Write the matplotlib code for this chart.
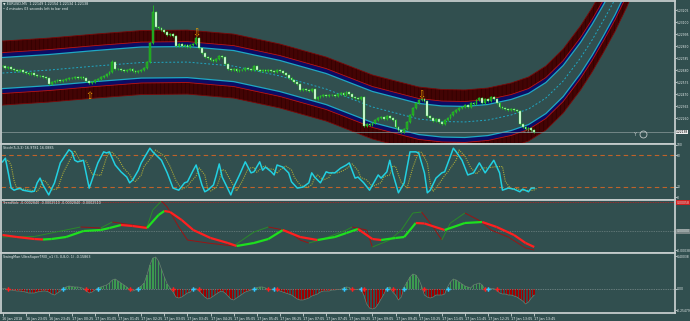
import numpy as np
import pandas as pd
import matplotlib
matplotlib.use("Agg")
import matplotlib.pyplot as plt
from matplotlib import font_manager
from matplotlib.collections import LineCollection

# ---------------- data ----------------
first_open = 1.22720
closes = [
    1.22715, 1.22698, 1.22707, 1.22689, 1.22680, 1.22672, 1.22680, 1.22663, 1.22654, 1.22645,
    1.22654, 1.22637, 1.22628, 1.22628, 1.22619, 1.22610, 1.22558, 1.22575, 1.22584, 1.22593,
    1.22584, 1.22593, 1.22602, 1.22610, 1.22610, 1.22619, 1.22610, 1.22619, 1.22610, 1.22584,
    1.22567, 1.22575, 1.22593, 1.22602, 1.22619, 1.22628, 1.22645, 1.22663, 1.22750, 1.22689,
    1.22689, 1.22680, 1.22672, 1.22680, 1.22689, 1.22672, 1.22663, 1.22672, 1.22680, 1.22698,
    1.22750, 1.22917, 1.23188, 1.23057, 1.23048, 1.23031, 1.23013, 1.22987, 1.22995, 1.22978,
    1.22890, 1.22908, 1.22890, 1.22899, 1.22882, 1.22899, 1.22908, 1.22961, 1.22873, 1.22829,
    1.22794, 1.22786, 1.22768, 1.22759, 1.22777, 1.22803, 1.22794, 1.22733, 1.22689, 1.22680,
    1.22689, 1.22672, 1.22680, 1.22680, 1.22698, 1.22689, 1.22680, 1.22715, 1.22680, 1.22672,
    1.22680, 1.22672, 1.22680, 1.22672, 1.22663, 1.22680, 1.22672, 1.22654, 1.22637, 1.22610,
    1.22593, 1.22575, 1.22558, 1.22505, 1.22514, 1.22505, 1.22497, 1.22514, 1.22427, 1.22444,
    1.22453, 1.22462, 1.22453, 1.22462, 1.22462, 1.22453, 1.22470, 1.22479, 1.22462, 1.22488,
    1.22470, 1.22444, 1.22435, 1.22427, 1.22444, 1.22190, 1.22208, 1.22199, 1.22217, 1.22243,
    1.22260, 1.22269, 1.22252, 1.22278, 1.22260, 1.22243, 1.22182, 1.22155, 1.22138, 1.22164,
    1.22225, 1.22287, 1.22348, 1.22392, 1.22418, 1.22427, 1.22409, 1.22278, 1.22260, 1.22234,
    1.22252, 1.22225, 1.22208, 1.22243, 1.22260, 1.22287, 1.22313, 1.22330, 1.22348, 1.22357,
    1.22374, 1.22357, 1.22392, 1.22383, 1.22418, 1.22435, 1.22392, 1.22427, 1.22409, 1.22444,
    1.22427, 1.22392, 1.22357, 1.22348, 1.22339, 1.22330, 1.22339, 1.22330, 1.22322, 1.22208,
    1.22182, 1.22164, 1.22173, 1.22155, 1.22138,
]
spike_high = {52: 1.23250, 38: 1.22768, 67: 1.22978}

time_labels = ["16 Jan 2018", "16 Jan 23:05", "16 Jan 23:45", "17 Jan 00:25", "17 Jan 01:05",
               "17 Jan 01:45", "17 Jan 02:25", "17 Jan 03:05", "17 Jan 03:45", "17 Jan 04:25",
               "17 Jan 05:05", "17 Jan 05:45", "17 Jan 06:25", "17 Jan 07:05", "17 Jan 07:45",
               "17 Jan 08:25", "17 Jan 09:05", "17 Jan 09:45", "17 Jan 10:25", "17 Jan 11:05",
               "17 Jan 11:45", "17 Jan 12:25", "17 Jan 13:05", "17 Jan 13:45"]

price_ticks = [1.23205, 1.23100, 1.22995, 1.22890, 1.22785, 1.22680, 1.22575, 1.22470, 1.22365, 1.22260]

# regression channel centre line
band_bars = [0, 16, 32, 48, 64, 80, 96, 112, 128, 144, 152, 160, 168, 176, 182, 188, 194,
             200, 204, 208, 212, 216, 224, 232]
band_mid = [1.22654, 1.22680, 1.22715, 1.22746, 1.22750, 1.22715, 1.22628, 1.22514, 1.22357,
            1.22252, 1.22230, 1.22226, 1.22243, 1.22287, 1.22339, 1.22435, 1.22584, 1.22786,
            1.22943, 1.23118, 1.23302, 1.23512, 1.23993, 1.24562]
band_in, band_red, band_out = 0.00136, 0.00179, 0.00280

arrow_bars = [30, 67, 145]
arrow_prices = [1.22453, 1.23004, 1.22462]
arrow_glyphs = ["\u21e7", "\u21e9", "\u21e9"]

stoch_bars = [0, 1, 2, 3, 4, 6, 7, 10, 11, 12, 13, 14, 16, 18, 20, 23, 24, 25, 26, 28,
              30, 33, 35, 36, 37, 39, 41, 43, 44, 45, 47, 48, 51, 52, 55, 57, 59, 61, 63, 64,
              66, 67, 69, 70, 71, 73, 74, 75, 76, 79, 80, 82, 84, 86, 87, 89, 90, 91, 93, 94,
              95, 97, 99, 100, 102, 104, 106, 107, 108, 110, 112, 113, 115, 117, 119, 120, 122, 123, 125, 127,
              130, 131, 133, 134, 135, 137, 139, 141, 143, 144, 146, 147, 148, 150, 152, 153, 156, 157, 159, 161,
              163, 165, 167, 170, 172, 173, 175, 177, 179, 180, 182, 183, 184]
stoch_main = [67, 74, 46, 17, 13, 17, 13, 10, 11, 27, 36, 23, 4, 27, 65, 90, 86, 70, 67, 70,
              17, 65, 86, 84, 86, 61, 48, 38, 27, 32, 51, 65, 93, 86, 70, 46, 17, 13, 27, 29,
              51, 61, 23, 10, 13, 23, 42, 63, 38, 4, 19, 42, 67, 46, 48, 67, 51, 57, 48, 42,
              61, 57, 46, 29, 17, 19, 27, 46, 38, 27, 48, 46, 46, 55, 61, 65, 36, 38, 27, 13,
              42, 36, 48, 70, 46, 8, 27, 86, 86, 84, 46, 8, 13, 36, 46, 48, 93, 86, 70, 42,
              46, 65, 46, 70, 46, 13, 17, 15, 10, 15, 10, 17, 17]

tv_thick_bars = [0, 5, 11, 14, 17, 22, 28, 34, 37, 41, 45, 50, 54, 56, 58, 62, 66, 72, 78, 81,
                 87, 92, 97, 103, 109, 115, 119, 123, 128, 131, 136, 139, 143, 146, 153, 160, 166, 171, 177, 181, 184]
tv_thick = [-0.00008, -0.00012, -0.00016, -0.00017, -0.00016, -0.00012, 0.0, 0.00002, 0.00006, 0.00012,
            0.00010, 0.00006, 0.00032, 0.00040, 0.00038, 0.00022, 0.00002, -0.00014, -0.00024, -0.00030,
            -0.00024, -0.00016, 0.00002, -0.00012, -0.00018, -0.00012, -0.00004, 0.00004, -0.00016, -0.00018,
            -0.00014, -0.00012, 0.00016, 0.00015, 0.00002, 0.00016, 0.00018, 0.00008, -0.00008, -0.00024,
            -0.00032]
tv_thin_bars = [0, 11, 27, 34, 38, 50, 52, 55, 57, 61, 64, 71, 80, 87, 92, 99, 103, 106, 110, 119,
                121, 126, 128, 134, 138, 142, 145, 149, 152, 155, 160, 166, 169, 175, 181, 184]
tv_thin = [-0.00012, -0.00011, 0.00008, 0.00006, 0.00018, 0.00008, 0.00042, 0.00060, 0.00048, 0.00008,
           -0.00018, -0.00024, -0.00030, -0.00002, 0.00008, 0.0, -0.00018, -0.00024, -0.00018, 0.00002,
           0.00008, 0.00002, -0.00032, -0.00018, 0.00002, 0.00036, 0.00038, 0.00008, -0.00018, 0.00016,
           0.00036, 0.00018, 0.00002, -0.00012, -0.00034, -0.00038]

swing_hist = [
    0.004, 0.004, -0.012, -0.012, -0.018, -0.024, -0.024, -0.030, -0.036, -0.048,
    -0.048, -0.048, -0.036, -0.030, -0.024, -0.024, -0.036, -0.060, -0.072, -0.048,
    -0.024, 0.006, 0.024, 0.036, 0.030, 0.024, 0.024, 0.018, 0.006, -0.024,
    -0.048, -0.036, -0.012, 0.012, 0.024, 0.036, 0.048, 0.072, 0.108, 0.120,
    0.096, 0.072, 0.048, 0.024, -0.012, -0.024, -0.012, 0.012, 0.036, 0.072,
    0.168, 0.288, 0.372, 0.384, 0.336, 0.240, 0.144, 0.060, 0.012, -0.036,
    -0.096, -0.108, -0.096, -0.072, -0.048, -0.036, 0.006, 0.006, -0.024, -0.060,
    -0.096, -0.120, -0.108, -0.084, -0.060, -0.036, -0.024, -0.048, -0.084, -0.120,
    -0.132, -0.108, -0.084, -0.060, -0.036, -0.024, -0.012, 0.006, 0.018, 0.024,
    0.024, 0.012, -0.006, -0.004, 0.004, -0.012, -0.024, -0.036, -0.048, -0.060,
    -0.072, -0.096, -0.120, -0.132, -0.132, -0.120, -0.108, -0.084, -0.072, -0.060,
    -0.036, -0.024, -0.024, -0.024, -0.012, -0.012, -0.006, -0.006, 0.012, 0.024,
    0.018, -0.012, -0.006, -0.004, 0.004, -0.072, -0.180, -0.228, -0.240, -0.228,
    -0.180, -0.120, -0.060, 0.012, 0.024, -0.036, -0.072, -0.132, -0.096, 0.024,
    0.084, 0.144, 0.180, 0.168, 0.120, 0.036, -0.072, -0.096, -0.108, -0.096,
    -0.072, -0.072, -0.072, -0.060, 0.024, 0.084, 0.120, 0.108, 0.084, 0.060,
    0.036, 0.024, 0.012, 0.048, 0.060, 0.072, 0.048, -0.012, 0.006, 0.006,
    0.004, -0.012, -0.048, -0.060, -0.060, -0.072, -0.072, -0.084, -0.096, -0.120,
    -0.144, -0.180, -0.156, -0.108, -0.072,
]

# ---------------- style ----------------
BG = "#314f4f"
FRAME = "#c4cccc"
TXT = "#e8eeee"
MAROON = "#430404"
NAVY = "#0c0c64"
CYAN = "#1fa8c4"
W, H = 690, 321
XL = (-2 / 2.89, 672 / 2.89)
plt.rcParams["hatch.linewidth"] = 0.4

# small label font: narrow face if there is one
_names = {f.name for f in font_manager.fontManager.ttflist}
if "Liberation Sans Narrow" in _names:
    plt.rcParams["font.family"] = ["Liberation Sans Narrow", "DejaVu Sans"]
    FS, FR = 3.0, 2.6
else:
    plt.rcParams["font.family"] = ["DejaVu Sans"]
    FS, FR = 2.4, 2.2

fig = plt.figure(figsize=(W / 100, H / 100), dpi=100, facecolor=BG)


def panel(top, bottom, ylim):
    ax = fig.add_axes([0.5 / W, 1 - bottom / H, 674 / W, (bottom - top) / H])
    ax.set_facecolor(BG)
    for s in ax.spines.values():
        s.set_color(FRAME)
        s.set_linewidth(1.3)
    ax.set_xlim(XL)
    ax.set_ylim(ylim)
    ax.set_xticks([])
    ax.yaxis.tick_right()
    ax.tick_params(axis="y", labelsize=FR, colors=TXT, length=1.2, width=0.5, pad=0.4)
    return ax


# ---------------- main price panel ----------------
ax = panel(0.5, 144, (1.22033, 1.23289))
bb = np.array(band_bars)
bm = np.array(band_mid)
for s in (1, -1):
    lo, hi = sorted([bm + s * band_red, bm + s * band_out], key=lambda a: a[0])
    ax.fill_between(bb, lo, hi, facecolor=MAROON, edgecolor="#2c0000", hatch="||||", lw=0)
    lo, hi = sorted([bm + s * band_in, bm + s * band_red], key=lambda a: a[0])
    ax.fill_between(bb, lo, hi, facecolor=NAVY, lw=0)
    ax.plot(bb, bm + s * band_out, color="#7a0808", lw=0.6)
    ax.plot(bb, bm + s * band_red, color="#c01010", lw=0.6)
    ax.plot(bb, bm + s * band_in, color=CYAN, lw=0.9)
ax.plot(bb, bm, color=CYAN, lw=0.7, ls=(0, (2, 2)))

ax.axhline(closes[-1], color="#8c9c9c", lw=0.5)

c = np.array(closes)
o = np.concatenate([[first_open], c[:-1]])
hi = np.maximum(o, c) + 0.00008
lo = np.minimum(o, c) - 0.00008
for k, v in spike_high.items():
    hi[k] = v
idx = np.arange(len(c))
ax.vlines(idx, lo, hi, color="#22c022", lw=0.6, zorder=3)
bull = c >= o
body = np.maximum(np.abs(c - o), 0.00002)
ax.bar(idx[bull], body[bull], bottom=np.minimum(o, c)[bull], width=0.62,
       color="#1ea01e", edgecolor="#30d030", lw=0.3, zorder=4)
ax.bar(idx[~bull], body[~bull], bottom=np.minimum(o, c)[~bull], width=0.62,
       color="#eafff0", edgecolor="#30d030", lw=0.3, zorder=4)

for b, p, g in zip(arrow_bars, arrow_prices, arrow_glyphs):
    ax.text(b, p, g, color="#f0a000", fontsize=7, ha="center", va="center", zorder=5,
            family="DejaVu Sans")

ax.set_yticks(price_ticks)
ax.set_yticklabels([f"{t:.5f}" for t in price_ticks])
ax.text(1.002, closes[-1], f"{closes[-1]:.5f}", transform=ax.get_yaxis_transform(),
        fontsize=FR, color="black", va="center", ha="left",
        bbox=dict(boxstyle="square,pad=0.1", fc="#f0f0f0", ec="none"))
ax.text(180, 1.22142, "< 4:03", fontsize=FS + 0.2, color="#9aa8a8", va="center")
ax.text(218, 1.22120, "Y", fontsize=3.5, color="#c0c8c8", va="center")
ax.plot(221.5, 1.22120, "o", ms=5, mfc="none", mec="#c0c8c8", mew=0.6)

fig.text(3 / W, 1 - 3.5 / H, "\u25bc EURUSD,M5  1.22149 1.22154 1.22134 1.22138",
         fontsize=FS, color=TXT, va="center")
fig.text(3 / W, 1 - 8.5 / H, "\u2022 4 minutes 03 seconds left to bar end",
         fontsize=FS, color=TXT, va="center")

# ---------------- stochastic ----------------
ax2 = panel(144, 200, (-5.7, 101))
ax2.axhline(80, color="#c0622a", lw=0.8, ls=(0, (4, 3)))
ax2.axhline(20, color="#c0622a", lw=0.8, ls=(0, (4, 3)))
sig = pd.Series(stoch_main, dtype=float).rolling(2, min_periods=1).mean()
ax2.plot(np.array(stoch_bars) + 1, sig, color="#a8a838", lw=0.8, ls=(0, (1, 1)))
ax2.plot(stoch_bars, stoch_main, color="#22d0e0", lw=1.1)
ax2.set_yticks([100, 80, 20, 0])
ax2.set_yticklabels(["100", "80", "20", "0"])
fig.text(3 / W, 1 - 148 / H, "Stoch(5,3,3) 16.9781 16.0885", fontsize=FS, color=TXT, va="center")

# ---------------- TrendVolc ----------------
ax3 = panel(200, 253, (-0.00044, 0.00062))
ax3.axhline(0.0, color="#8a9a9a", lw=0.5, ls=(0, (1, 1.5)))
ax3.axhline(0.00058, color="#c02020", lw=0.6, ls=(0, (1, 1)))


def slope_line(a, bars, vals, up, down, lw):
    pts = np.column_stack([bars, vals])
    segs = np.stack([pts[:-1], pts[1:]], axis=1)
    cols = [up if y1 > y0 else down for y0, y1 in zip(vals[:-1], vals[1:])]
    a.add_collection(LineCollection(segs, colors=cols, linewidths=lw))


slope_line(ax3, tv_thin_bars, tv_thin, "#2a8a2a", "#9a1414", 0.7)
slope_line(ax3, tv_thick_bars, tv_thick, "#1ee01e", "#ff2020", 1.6)
ax3.set_yticks([0.00058, 0.0, -0.00038])
ax3.set_yticklabels(["0.00058", "0.00000", "-0.00038"])
tl = ax3.get_yticklabels()
tl[0].set_bbox(dict(boxstyle="square,pad=0.1", fc="#d02020", ec="none"))
tl[1].set_bbox(dict(boxstyle="square,pad=0.1", fc="#7a8686", ec="none"))
fig.text(3 / W, 1 - 203.5 / H, "TrendVolc -0.0002840 -0.0002510 -0.0002840 -0.0002510",
         fontsize=FS, color=TXT, va="center")

# ---------------- SwingMan histogram ----------------
ax4 = panel(253, 313, (-0.288, 0.432))
h = np.array(swing_hist)
hb = np.arange(len(h))
ax4.axhline(0, color="#a0aaaa", lw=0.5, ls=(0, (1, 1.5)))
ax4.bar(hb[h > 0], h[h > 0], width=0.55, color="#3c9a50", lw=0)
ax4.bar(hb[h < 0], h[h < 0], width=0.55, color="#a00000", lw=0)
ax4.plot(hb, h, color="#6a7e70", lw=0.5)
sg = np.sign(h)
for i in range(1, len(h)):
    if sg[i] != sg[i - 1]:
        col = "#30c8ff" if h[i] > 0 else "#ff2020"
        ax4.plot(i, 0, marker="P", ms=3.2, color=col, mew=0, zorder=5)
ax4.set_yticks([0.396, 0.0, -0.252])
ax4.set_yticklabels(["0.40038", "0.00", "-0.25479"])
ax4.set_xticks(np.arange(len(time_labels)) * 8)
ax4.set_xticklabels(time_labels)
ax4.tick_params(axis="x", labelsize=FS, colors=TXT, length=2, width=0.5, pad=0.8)
for t in ax4.get_xticklabels():
    t.set_ha("left")
fig.text(3 / W, 1 - 257 / H, "SwingMan UltraSuperTRIX_v1 (3, 0,8,0, 1) -0.15863",
         fontsize=FS, color=TXT, va="center")

fig.savefig("out.png", dpi=100, facecolor=BG)
